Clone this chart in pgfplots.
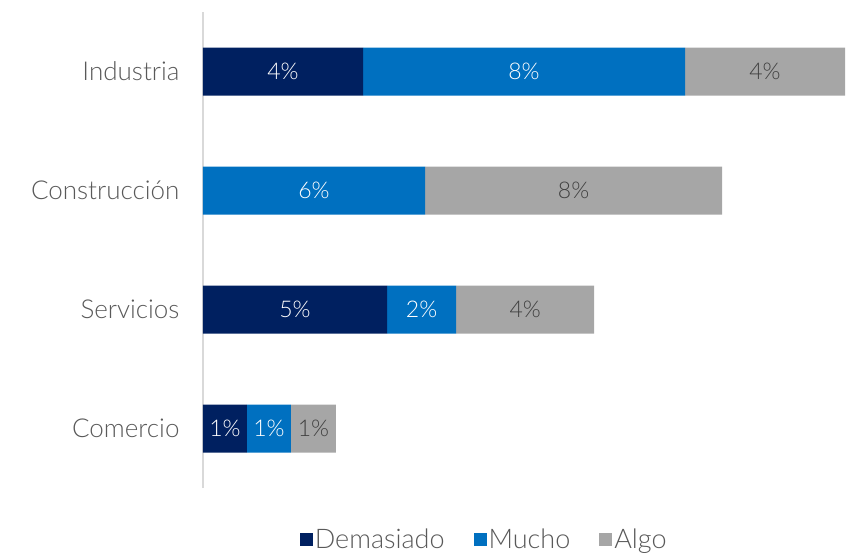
\documentclass[border=0pt]{standalone}
\usepackage{pgfplots}
\pgfplotsset{compat=1.18}
\usepackage{fontspec}
\setmainfont{Lato Light}
\usetikzlibrary{calc}
\definecolor{demasiado}{HTML}{002060}
\definecolor{mucho}{HTML}{0070C0}
\definecolor{algo}{HTML}{A6A6A6}
\definecolor{txt}{HTML}{595959}
\begin{document}
\begin{tikzpicture}
\begin{axis}[
  xbar stacked,
  bar width=48pt,
  scale only axis,
  width=648pt, height=476pt,
  xmin=0, xmax=16.2,
  ymin=-0.5, ymax=3.5,
  axis x line=none,
  axis y line*=left,
  y axis line style={draw=black!15, line width=1.2pt, -},
  ytick={0,1,2,3},
  yticklabels={Comercio,Servicios,Construcción,Industria},
  major tick length=0pt,
  yticklabel style={font=\fontsize{26}{30}\selectfont, text=txt, xshift=-20pt},
  point meta=explicit symbolic,
  nodes near coords,
  every node near coord/.append style={anchor=center, font=\fontsize{23}{27}\selectfont},
  legend style={at={(0.434,-0.109)}, anchor=center, draw=none,
    font=\fontsize{27}{30}\selectfont, text=txt,
    /tikz/every even column/.append style={column sep=27pt}},
  legend columns=3,
  legend image code/.code={\fill[#1] (0pt,-6.5pt) rectangle (13pt,6.5pt);},
  clip=false,
]
\addplot[fill=demasiado, draw=none, every node near coord/.append style={text=white}]
  coordinates {(1.1,0) [1\%] (4.6,1) [5\%] (0,2) [{}] (4.0,3) [4\%]};
\addplot[fill=mucho, draw=none, every node near coord/.append style={text=white}]
  coordinates {(1.1,0) [1\%] (1.73,1) [2\%] (5.55,2) [6\%] (8.05,3) [8\%]};
\addplot[fill=algo, draw=none, every node near coord/.append style={text=black!75}]
  coordinates {(1.12,0) [1\%] (3.45,1) [4\%] (7.43,2) [8\%] (4.0,3) [4\%]};
\legend{Demasiado,Mucho,Algo}
\end{axis}
\pgfresetboundingbox
\path ($(current axis.south west)+(-203pt,-67pt)$) rectangle ($(current axis.south west)+(648pt,488pt)$);
\end{tikzpicture}
\end{document}
